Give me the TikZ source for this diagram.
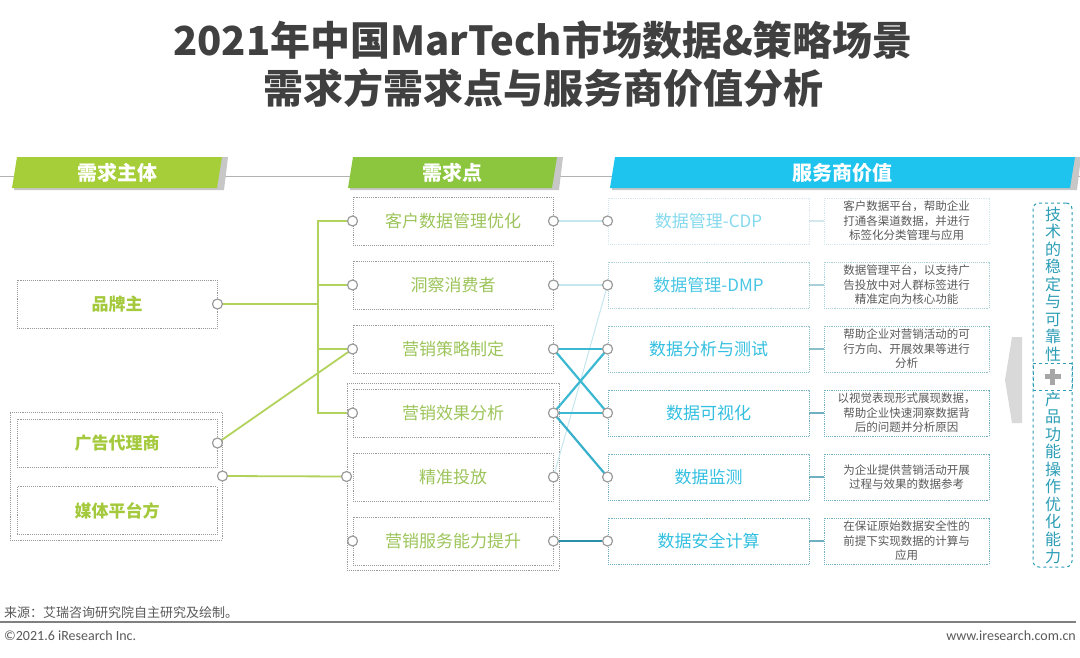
\documentclass[tikz,border=0pt]{standalone}
\usepackage{fontspec}
\setmainfont{Noto Sans CJK SC}
\newfontfamily\footfont{Carlito}
\usetikzlibrary{positioning,shapes.geometric,calc}
\definecolor{titlegray}{RGB}{64,64,64}
\definecolor{hdrlime}{RGB}{166,206,57}
\definecolor{hdrgreen}{RGB}{140,198,63}
\definecolor{hdrblue}{RGB}{30,195,238}
\definecolor{subjgreen}{RGB}{164,201,60}
\definecolor{pointgreen}{RGB}{156,196,90}
\definecolor{linkgreen}{RGB}{178,211,91}
\definecolor{dotgray}{RGB}{154,154,154}
\definecolor{valcyan}{RGB}{51,191,224}
\definecolor{valborder}{RGB}{111,175,191}
\definecolor{linkteal}{RGB}{61,184,211}
\definecolor{linkdark}{RGB}{43,143,170}
\definecolor{linkpale}{RGB}{197,230,238}
\definecolor{sideteal}{RGB}{44,157,181}
\definecolor{descgray}{RGB}{89,89,89}

\tikzset{
  hdrtext/.style={text=white, font=\fontsize{20}{22}\selectfont\bfseries},
  subjbox/.style={draw=dotgray, densely dotted, line width=0.9pt, minimum width=200, minimum height=48, inner sep=0pt, text=subjgreen, font=\fontsize{17}{20}\selectfont\bfseries},
  groupbox/.style={draw=dotgray, densely dotted, line width=0.9pt, inner sep=0pt},
  pointbox/.style={draw=dotgray, densely dotted, line width=0.9pt, minimum width=200, minimum height=48, inner sep=0pt, text=pointgreen, font=\fontsize{17}{20}\selectfont},
  valbox/.style={draw=valborder, densely dotted, line width=0.9pt, minimum width=201, minimum height=46, inner sep=0pt, text=valcyan, font=\fontsize{17}{20}\selectfont},
  descbox/.style={draw=valborder, densely dotted, line width=0.9pt, minimum width=165, minimum height=46, inner sep=0pt, align=center, text=descgray, font=\fontsize{11.5}{14.5}\selectfont},
  port/.style={circle, draw=dotgray, fill=white, line width=1.2pt, minimum size=10, inner sep=0pt},
  greenlink/.style={linkgreen, line width=1.8pt},
  teallink/.style={linkteal, line width=2.2pt},
  sidetext/.style={text=sideteal, align=center, font=\fontsize{16}{17.5}\selectfont}
}

\newcommand{\hdrband}[5]{%
  \fill[black!22] (#1+6,157) -- (#1+#2+6,157) -- (#1+#2+2,190) -- (#1+2,190) -- cycle;
  \fill[#3] (#1,188) -- (#1+5,157) -- (#1+#2,157) -- (#1+#2-5,188) -- cycle;
  \node[hdrtext] (#4) at (#1+#2/2,172.5) {#5};}

\begin{document}
\begin{tikzpicture}[x=1pt,y=-1pt]
\useasboundingbox (0,0) rectangle (1080,657);

% title
\node[text=titlegray, font=\fontsize{40}{44}\selectfont\bfseries] (title1) at (543,40) {2021年中国MarTech市场数据\&策略场景};
\node[text=titlegray, font=\fontsize{40}{44}\selectfont\bfseries] (title2) at (543,88) {需求方需求点与服务商价值分析};

% header band
\draw[black!30, line width=1pt] (0,176) -- (1080,176);
\hdrband{12}{210}{hdrlime}{hsubj}{需求主体}
\hdrband{348}{209}{hdrgreen}{hpoint}{需求点}
\hdrband{610}{465}{hdrblue}{hval}{服务商价值}

% demand subjects
\node[subjbox] (brand) at (117,304) {品牌主};
\node[groupbox, minimum width=212, minimum height=128] (adgroup) at (116,476) {};
\node[subjbox] (agency) at (117,443) {广告代理商};
\node[subjbox] (media) at (117,510.5) {媒体平台方};

% demand points
\node[groupbox, minimum width=212, minimum height=187] (pgroup) at (453,476.5) {};
\foreach \i/\t in {1/客户数据管理优化, 2/洞察消费者, 3/营销策略制定, 4/营销效果分析, 5/精准投放, 6/营销服务能力提升}
  \node[pointbox] (p\i) at (453,157+64*\i) {\t};

% provider values
\foreach \i/\t/\d/\o/\to in {
  1/数据管理-CDP/客户数据平台，帮助企业\\打通各渠道数据，并进行\\标签化分类管理与应用/0.3/0.6,
  2/数据管理-DMP/数据管理平台，以支持广\\告投放中对人群标签进行\\精准定向为核心功能/0.6/0.9,
  3/数据分析与测试/帮助企业对营销活动的可\\行方向、开展效果等进行\\分析/0.8/1,
  4/数据可视化/以视觉表现形式展现数据，\\帮助企业快速洞察数据背\\后的问题并分析原因/1/1,
  5/数据监测/为企业提供营销活动开展\\过程与效果的数据参考/1/1,
  6/数据安全计算/在保证原始数据安全性的\\前提下实现数据的计算与\\应用/1/1}{
  \node[valbox, draw opacity=\o, text opacity=\to] (v\i) at (708.5,157+64*\i) {\t};
  \node[descbox, draw opacity=\o] (d\i) at (906.5,157+64*\i) {\d};
  \draw[valborder, line width=2pt, draw opacity=\o] (v\i.east) -- (d\i.west);
}

% green connectors
\coordinate (trunk) at (318,0);
\draw[greenlink] (brand.east) -- (brand.east -| trunk);
\draw[greenlink] (p1.west) -- (p1.west -| trunk) -- (p4.west -| trunk) -- (p4.west);
\foreach \i in {2,3}
  \draw[greenlink] (p\i.west) -- (p\i.west -| trunk);
\draw[greenlink] (agency.east) -- (p3.west);
\draw[greenlink] (adgroup.east) -- (pgroup.west);

% teal connectors
\draw[linkpale, line width=1.6pt] (p1.east) -- (v1.west);
\draw[linkpale, line width=1.6pt] (p2.east) -- (v2.west);
\draw[linkpale, line width=1pt] (p5.east) -- (v2.west);
\draw[teallink] (p3.east) -- (v3.west);
\draw[teallink] (p3.east) -- (v4.west);
\draw[teallink] (p4.east) -- (v3.west);
\draw[teallink] (p4.east) -- (v4.west);
\draw[teallink, linkteal!80!linkdark] (p4.east) -- (v5.west);
\draw[linkdark, line width=2.2pt] (p6.east) -- (v6.west);

% ports
\node[port] (brand-o) at (brand.east) {};
\node[port] (agency-o) at (agency.east) {};
\node[port] (adgroup-o) at (adgroup.east) {};
\node[port] (pgroup-o) at (pgroup.west) {};
\foreach \i in {1,...,6}{
  \node[port] (p\i-e) at (p\i.east) {};
  \node[port] (v\i-w) at (v\i.west) {};
}
\foreach \i in {1,2,3,4,6}
  \node[port] (p\i-w) at (p\i.west) {};

% side summary
\fill[black!15] (1022,337) -- (1012,337) -- (1005,380) -- (1012,423) -- (1022,423) -- cycle;
\node[draw=sideteal, dashed, line width=1pt, rounded corners=6, minimum width=39, minimum height=364, inner sep=0pt] (side) at (1052.5,385) {};
\node[draw=sideteal, dashed, line width=1pt, minimum width=39, minimum height=27, inner sep=0pt] (plusbox) at (1052.5,376.5) {};
\draw[black!35, line width=4.5pt] ([xshift=-8pt]plusbox.center) -- ([xshift=8pt]plusbox.center);
\draw[black!35, line width=4.5pt] ([yshift=-8pt]plusbox.center) -- ([yshift=8pt]plusbox.center);
\node[sidetext] (tech) at (1053,284) {技\\术\\的\\稳\\定\\与\\可\\靠\\性};
\node[sidetext] (prod) at (1053,478) {产\\品\\功\\能\\操\\作\\优\\化\\能\\力};

% footer
\node[anchor=west, text=descgray, font=\fontsize{13}{15}\selectfont, inner sep=0pt] (source) at (4,613) {来源：艾瑞咨询研究院自主研究及绘制。};
\draw[black!50, line width=2pt] (0,622) -- (1076,622);
\node[anchor=west, text=descgray, font=\footfont\fontsize{14}{16}\selectfont, inner sep=0pt] (copy) at (4,636) {©2021.6 iResearch Inc.};
\node[anchor=east, text=descgray, font=\footfont\fontsize{14}{16}\selectfont, inner sep=0pt] (web) at (1076,636) {www.iresearch.com.cn};
\end{tikzpicture}
\end{document}
